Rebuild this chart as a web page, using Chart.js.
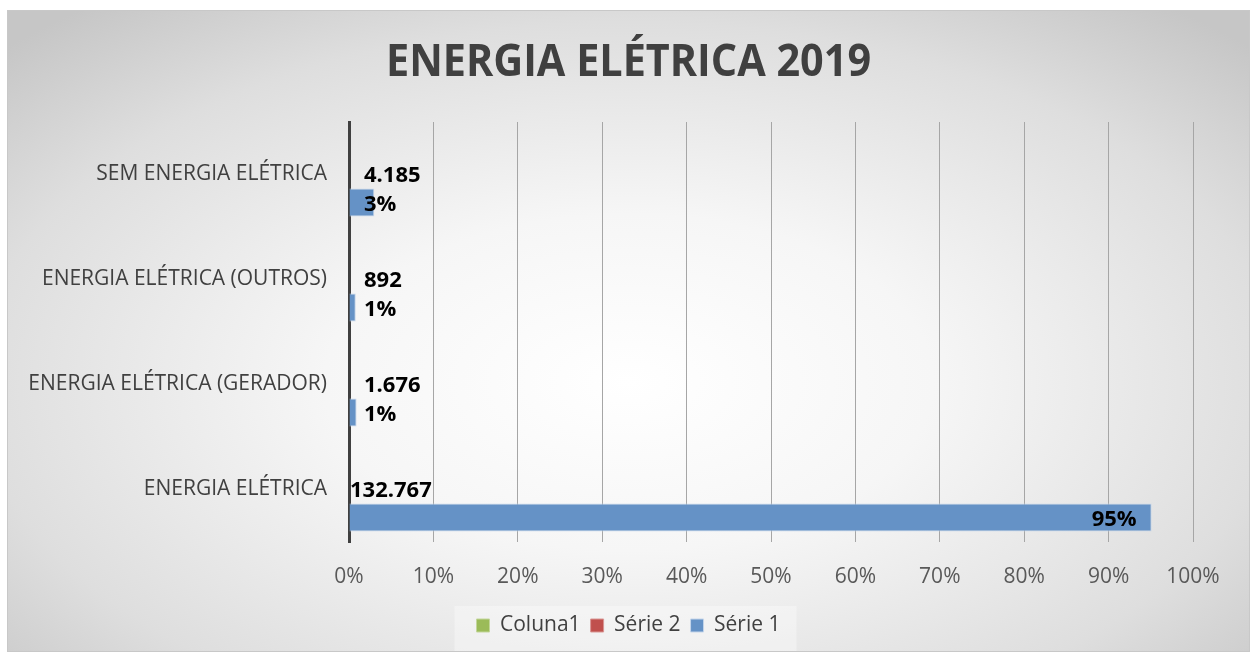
<!DOCTYPE html>
<html>
<head>
<meta charset="utf-8">
<script src="https://cdn.jsdelivr.net/npm/chart.js@4.4.1/dist/chart.umd.min.js"></script>
<style>
    html, body { margin: 0; padding: 0; background: #fff; }
    #frame {
        position: absolute;
        left: 7px;
        top: 10px;
        width: 1243px;
        height: 642px;
        box-sizing: border-box;
        border: 1px solid #c8c8c8;
        background: radial-gradient(ellipse 70% 75% at 50% 58%, #ffffff 0%, #f6f6f6 35%, #dedede 75%, #c6c6c6 100%);
    }
    #frame canvas { display: block; }
</style>
</head>
<body>
<div id="frame"><canvas id="chart" width="1241" height="640"></canvas></div>
<script>
const categories = ['SEM ENERGIA ELÉTRICA', 'ENERGIA ELÉTRICA (OUTROS)', 'ENERGIA ELÉTRICA (GERADOR)', 'ENERGIA ELÉTRICA'];
const serie1 = [3.0, 0.8, 0.9, 95.1];
const serie2 = [null, null, null, null];
const coluna1 = [null, null, null, null];
const countLabels = ['4.185', '892', '1.676', '132.767'];
const pctLabels = ['3%', '1%', '1%', '95%'];
const xTicks = [0, 10, 20, 30, 40, 50, 60, 70, 80, 90, 100];
const chartTitle = 'ENERGIA ELÉTRICA 2019';

const FONT = '"Open Sans", "DejaVu Sans", sans-serif';

// title drawn by hand so it can be squeezed a little (the original uses Calibri)
const titlePlugin = {
    id: 'titlePlugin',
    beforeDraw(chart) {
        // faint lighter box behind the legend, like the original
        const lg = chart.legend;
        if (lg && lg.legendHitBoxes.length) {
            const boxes = lg.legendHitBoxes;
            const first = boxes[0], last = boxes[boxes.length - 1];
            const { ctx } = chart;
            ctx.save();
            ctx.fillStyle = 'rgba(255,255,255,0.35)';
            ctx.fillRect(first.left - 22, lg.top + 1, last.left + last.width - first.left + 38, lg.height + 4);
            ctx.restore();
        }
    },
    afterDraw(chart) {
        const { ctx } = chart;
        ctx.save();
        ctx.font = `bold 44px ${FONT}`;
        ctx.fillStyle = '#404040';
        ctx.textAlign = 'center';
        ctx.textBaseline = 'middle';
        ctx.translate(chart.width / 2, 52);
        ctx.scale(0.94, 1);
        ctx.fillText(chartTitle, 0, 0);
        ctx.restore();
    }
};

const barLabels = {
    id: 'barLabels',
    afterDatasetsDraw(chart) {
        const { ctx } = chart;
        const meta = chart.getDatasetMeta(2);
        const x0 = chart.scales.x.getPixelForValue(0);
        ctx.save();
        ctx.font = `bold 22px ${FONT}`;
        ctx.fillStyle = '#000';
        ctx.textBaseline = 'middle';
        meta.data.forEach((bar, i) => {
            const top = bar.y - bar.height / 2;
            const wide = bar.x - x0 > 100;
            ctx.textAlign = 'left';
            ctx.fillText(countLabels[i], wide ? x0 + 1 : x0 + 15, top - 13);
            if (wide) {
                ctx.textAlign = 'right';
                ctx.fillText(pctLabels[i], bar.x - 15, bar.y + 2);
            } else {
                ctx.fillText(pctLabels[i], x0 + 15, bar.y + 2);
            }
        });
        ctx.restore();
    }
};

new Chart(document.getElementById('chart'), {
    type: 'bar',
    data: {
        labels: categories,
        datasets: [
            { label: 'Coluna1', data: coluna1, backgroundColor: '#9bbb59', borderColor: '#c3d69b', borderWidth: 1 },
            { label: 'Série 2', data: serie2, backgroundColor: '#c0504d', borderColor: '#d99694', borderWidth: 1 },
            { label: 'Série 1', data: serie1, backgroundColor: '#6592c6', borderColor: '#c5d5ea', borderWidth: 1 },
        ],
    },
    options: {
        indexAxis: 'y',
        responsive: false,
        animation: false,
        categoryPercentage: 0.8,
        barPercentage: 1,
        layout: { padding: { left: 0, right: 0, top: 111, bottom: 5 } },
        plugins: {
            title: { display: false },
            legend: {
                position: 'bottom',
                labels: {
                    color: '#404040',
                    font: { family: FONT, size: 21 },
                    boxWidth: 13,
                    boxHeight: 13,
                    padding: 10,
                    generateLabels(chart) {
                        return chart.data.datasets.map((ds, i) => ({
                            text: ds.label,
                            fillStyle: ds.backgroundColor,
                            strokeStyle: ds.borderColor,
                            lineWidth: 1,
                            datasetIndex: i,
                            fontColor: '#404040',
                        }));
                    },
                },
            },
            tooltip: { enabled: false },
        },
        scales: {
            x: {
                min: 0,
                max: 100,
                afterBuildTicks(scale) {
                    scale.ticks = xTicks.map(v => ({ value: v }));
                },
                afterFit(scale) { scale.height = 63; },
                grid: { color: '#a6a6a6', lineWidth: 1, drawTicks: false },
                border: { display: false },
                ticks: {
                    color: '#595959',
                    font: { family: FONT, size: 21 },
                    padding: 22,
                    callback: v => v + '%',
                },
            },
            y: {
                afterFit(scale) { scale.width = 341; },
                grid: { display: false, drawTicks: false },
                border: { display: true, color: '#404040', width: 3 },
                ticks: {
                    color: '#404040',
                    font: { family: FONT, size: 21 },
                    padding: 22,
                },
            },
            // empty spacer on the right so the plot stops at 100% while title/legend stay centred
            yRight: {
                type: 'category',
                position: 'right',
                afterFit(scale) { scale.width = 56; },
                grid: { display: false, drawTicks: false },
                border: { display: false },
                ticks: { display: false },
            },
        },
    },
    plugins: [barLabels, titlePlugin],
});
</script>
</body>
</html>
